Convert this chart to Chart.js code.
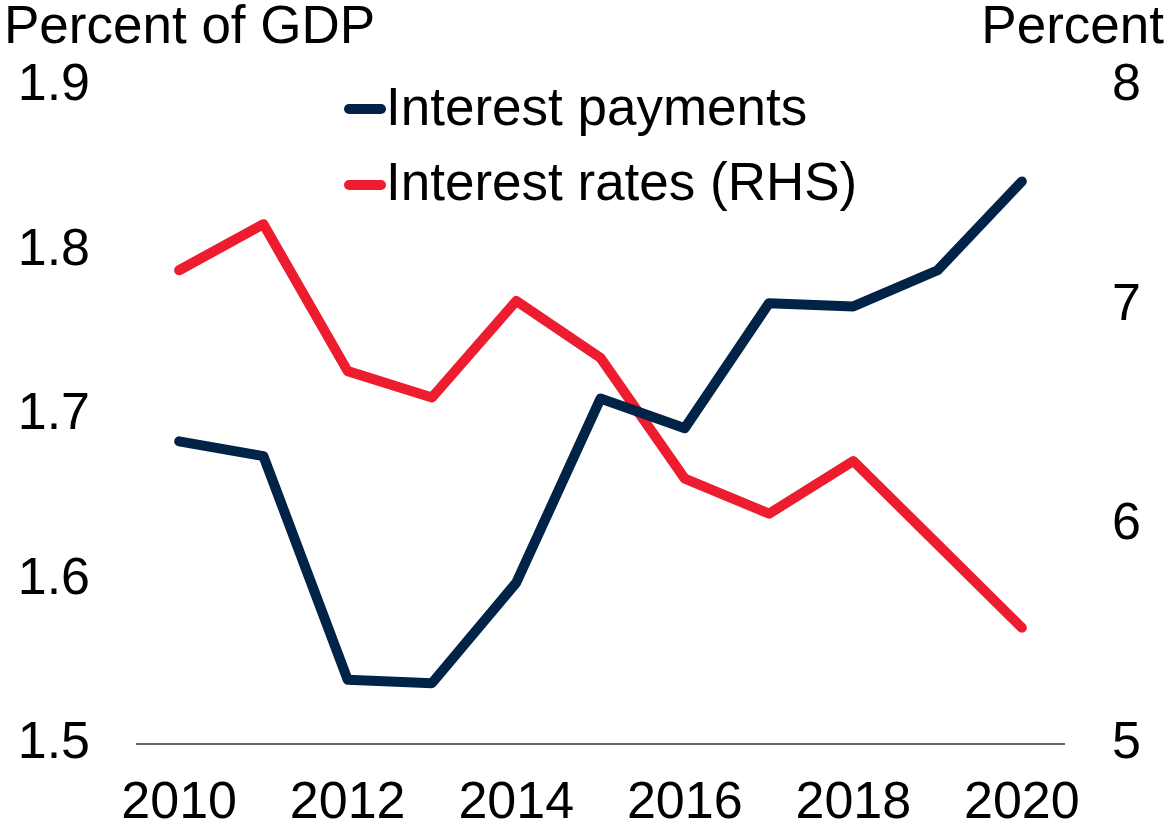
<!DOCTYPE html>
<html>
<head>
<meta charset="utf-8">
<script src="https://cdn.jsdelivr.net/npm/chart.js@4.4.1/dist/chart.umd.min.js"></script>
<style>
  body { margin: 0; background: #fff; }
  #wrap { width: 1168px; height: 830px; position: relative; }
</style>
</head>
<body>
<div id="wrap"><canvas id="grafico"></canvas></div>
<script>
const years = ["2010", "2011", "2012", "2013", "2014", "2015", "2016", "2017", "2018", "2019", "2020"];
const interestPayments = [1.684, 1.675, 1.539, 1.537, 1.598, 1.710, 1.692, 1.768, 1.766, 1.788, 1.842];
const interestRates = [7.16, 7.37, 6.70, 6.58, 7.02, 6.76, 6.21, 6.05, 6.29, 5.91, 5.53];
const leftAxisTitle = "Percent of GDP";
const rightAxisTitle = "Percent";

const NAVY = "#002347";
const RED = "#ED1C2E";
const FONT = "'Liberation Sans', Arial, sans-serif";

// titles and legend drawn by hand, to sit where the original puts them
const textoExtra = {
  id: "textoExtra",
  afterDraw(chart) {
    const ctx = chart.ctx;
    ctx.save();
    ctx.fillStyle = "#000";
    ctx.font = "53px " + FONT;
    ctx.textBaseline = "alphabetic";
    ctx.textAlign = "left";
    ctx.fillText(leftAxisTitle, 4, 43);
    ctx.textAlign = "right";
    ctx.fillText(rightAxisTitle, 1164, 43);

    ctx.textAlign = "left";
    chart.data.datasets.forEach((ds, i) => {
      const y = 109 + i * 76;
      ctx.strokeStyle = ds.borderColor;
      ctx.lineWidth = 10;
      ctx.lineCap = "round";
      ctx.beginPath();
      ctx.moveTo(349, y);
      ctx.lineTo(381, y);
      ctx.stroke();
      ctx.fillText(ds.label, 386, 125 + i * 75);
    });
    ctx.restore();
  },
};

const ctx = document.getElementById("grafico").getContext("2d");
new Chart(ctx, {
  type: "line",
  data: {
    labels: years,
    datasets: [
      {
        label: "Interest payments",
        data: interestPayments,
        borderColor: NAVY,
        backgroundColor: NAVY,
        borderWidth: 10,
        pointRadius: 0,
        tension: 0,
        borderCapStyle: "round",
        borderJoinStyle: "round",
        yAxisID: "y",
      },
      {
        label: "Interest rates (RHS)",
        data: interestRates,
        borderColor: RED,
        backgroundColor: RED,
        borderWidth: 10,
        pointRadius: 0,
        tension: 0,
        borderCapStyle: "round",
        borderJoinStyle: "round",
        yAxisID: "y1",
      },
    ],
  },
  options: {
    responsive: true,
    maintainAspectRatio: false,
    animation: false,
    layout: { padding: { top: 86, left: 0, right: 0, bottom: 0 } },
    plugins: { legend: { display: false }, tooltip: { enabled: false } },
    scales: {
      x: {
        offset: true,
        grid: { display: false },
        border: { display: true, color: "#666", width: 2 },
        afterFit: (s) => { s.height = 86; },
        ticks: {
          autoSkip: false,
          maxRotation: 0,
          padding: 20,
          color: "#000",
          font: { family: FONT, size: 52 },
          callback: function (val, i) {
            return i % 2 === 0 ? this.getLabelForValue(val) : "";
          },
        },
      },
      y: {
        position: "left",
        min: 1.5,
        max: 1.9,
        grid: { display: false },
        border: { display: false },
        afterFit: (s) => { s.width = 137; },
        ticks: {
          stepSize: 0.1,
          padding: 39,
          color: "#000",
          font: { family: FONT, size: 52 },
          callback: (v) => v.toFixed(1),
        },
      },
      y1: {
        position: "right",
        min: 5,
        max: 8,
        grid: { display: false },
        border: { display: false },
        afterFit: (s) => { s.width = 104; },
        ticks: {
          stepSize: 1,
          padding: 40,
          color: "#000",
          font: { family: FONT, size: 52 },
        },
      },
    },
  },
  plugins: [textoExtra],
});
</script>
</body>
</html>
